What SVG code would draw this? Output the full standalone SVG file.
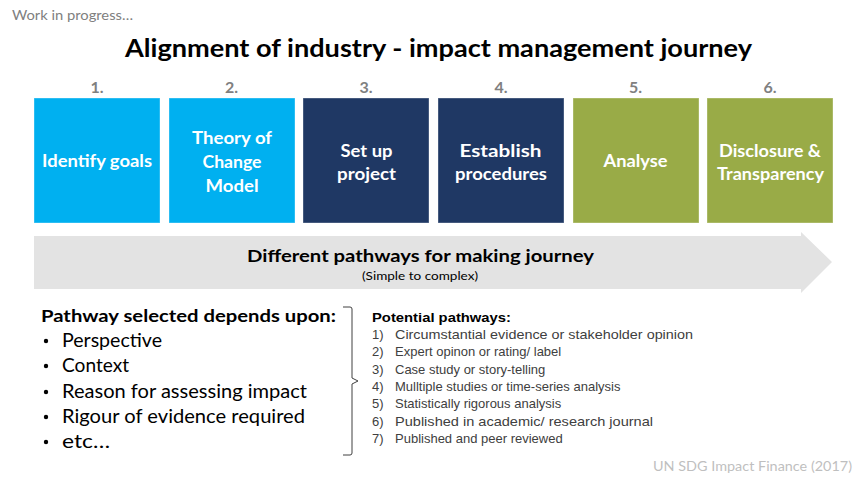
<svg xmlns="http://www.w3.org/2000/svg" width="855" height="482" viewBox="0 0 855 482">
  <style>
    .cal { font-family: Lato, "Open Sans", "Liberation Sans", sans-serif; }
    .ari { font-family: "Liberation Sans", Arial, sans-serif; }
    .num { font-size: 16px; font-weight: bold; fill: #808080; text-anchor: middle; }
    .box { stroke: #ffffff; stroke-opacity: 0.35; stroke-width: 1; }
    .lbl { font-size: 16.5px; font-weight: bold; fill: #ffffff; text-anchor: middle; }
    .blue { fill: #00b0f0; }
    .navy { fill: #1f3864; }
    .green { fill: #99ab47; }
    .bul { font-size: 18.5px; fill: #000000; }
    .item { font-size: 13px; fill: #404040; }
  </style>

  <rect width="855" height="482" fill="#ffffff"/>

  <!-- header -->
  <text class="cal" x="12" y="20" font-size="13" fill="#808080" textLength="121" lengthAdjust="spacingAndGlyphs">Work in progress…</text>
  <text class="cal" x="438.5" y="57" font-size="25" font-weight="bold" fill="#000000" text-anchor="middle" textLength="627" lengthAdjust="spacingAndGlyphs">Alignment of industry - impact management journey</text>

  <!-- step 1 -->
  <g id="step1">
    <text class="cal num" x="97" y="93">1.</text>
    <rect class="box blue" x="34" y="98" width="126" height="125"/>
    <text class="cal lbl" x="97" y="167" textLength="110" lengthAdjust="spacingAndGlyphs">Identify goals</text>
  </g>

  <!-- step 2 -->
  <g id="step2">
    <text class="cal num" x="231.5" y="93">2.</text>
    <rect class="box blue" x="169" y="98" width="126" height="125"/>
    <text class="cal lbl" x="232" y="144" textLength="80" lengthAdjust="spacingAndGlyphs">Theory of</text>
    <text class="cal lbl" x="232" y="168" textLength="59" lengthAdjust="spacingAndGlyphs">Change</text>
    <text class="cal lbl" x="232" y="192" textLength="53" lengthAdjust="spacingAndGlyphs">Model</text>
  </g>

  <!-- step 3 -->
  <g id="step3">
    <text class="cal num" x="366" y="93">3.</text>
    <rect class="box navy" x="303" y="98" width="126" height="125"/>
    <text class="cal lbl" x="366.5" y="157" textLength="52" lengthAdjust="spacingAndGlyphs">Set up</text>
    <text class="cal lbl" x="366.5" y="180" textLength="59" lengthAdjust="spacingAndGlyphs">project</text>
  </g>

  <!-- step 4 -->
  <g id="step4">
    <text class="cal num" x="501" y="93">4.</text>
    <rect class="box navy" x="438" y="98" width="126" height="125"/>
    <text class="cal lbl" x="500.5" y="157" textLength="82" lengthAdjust="spacingAndGlyphs">Establish</text>
    <text class="cal lbl" x="501" y="180" textLength="92" lengthAdjust="spacingAndGlyphs">procedures</text>
  </g>

  <!-- step 5 -->
  <g id="step5">
    <text class="cal num" x="635.5" y="93">5.</text>
    <rect class="box green" x="573" y="98" width="126" height="125"/>
    <text class="cal lbl" x="635.5" y="167" textLength="64" lengthAdjust="spacingAndGlyphs">Analyse</text>
  </g>

  <!-- step 6 -->
  <g id="step6">
    <text class="cal num" x="770" y="93">6.</text>
    <rect class="box green" x="707" y="98" width="126" height="125"/>
    <text class="cal lbl" x="770" y="157" textLength="102" lengthAdjust="spacingAndGlyphs">Disclosure &amp;</text>
    <text class="cal lbl" x="770.5" y="180" textLength="107" lengthAdjust="spacingAndGlyphs">Transparency</text>
  </g>

  <!-- pathways arrow -->
  <g id="pathways">
    <polygon points="34,236 801,236 801,232 832,262 801,293 801,289 34,289" fill="#e3e3e3"/>
    <text class="cal" x="420.5" y="262" font-size="17" font-weight="bold" fill="#000000" text-anchor="middle" textLength="347" lengthAdjust="spacingAndGlyphs">Different pathways for making journey</text>
    <text class="cal" x="420" y="280" font-size="11" fill="#000000" text-anchor="middle" textLength="116" lengthAdjust="spacingAndGlyphs">(Simple to complex)</text>
  </g>

  <!-- factors -->
  <g id="factors">
    <text class="cal" x="41" y="322" font-size="17.5" font-weight="bold" fill="#000000" textLength="295" lengthAdjust="spacingAndGlyphs">Pathway selected depends upon:</text>
    <g fill="#000000">
      <circle cx="46" cy="341" r="2.2"/>
      <circle cx="46" cy="366" r="2.2"/>
      <circle cx="46" cy="392" r="2.2"/>
      <circle cx="46" cy="417" r="2.2"/>
      <circle cx="46" cy="442" r="2.2"/>
    </g>
    <text class="cal bul" x="62" y="347" textLength="100" lengthAdjust="spacingAndGlyphs">Perspective</text>
    <text class="cal bul" x="62" y="372" textLength="67" lengthAdjust="spacingAndGlyphs">Context</text>
    <text class="cal bul" x="62" y="398" textLength="245" lengthAdjust="spacingAndGlyphs">Reason for assessing impact</text>
    <text class="cal bul" x="62" y="423" textLength="243" lengthAdjust="spacingAndGlyphs">Rigour of evidence required</text>
    <text class="cal bul" x="62" y="448" textLength="48" lengthAdjust="spacingAndGlyphs">etc…</text>
  </g>

  <!-- brace joining factors to pathways -->
  <g id="connectors">
    <path d="M343,307 L350,307 Q352,307 352,309 L352,378 L358,381 L352,384 L352,453 Q352,455 350,455 L343,455" fill="none" stroke="#404040" stroke-width="1"/>
  </g>

  <!-- potential pathways list -->
  <g id="potential">
    <text class="ari" x="372" y="322" font-size="13.5" font-weight="bold" fill="#000000" textLength="139" lengthAdjust="spacingAndGlyphs">Potential pathways:</text>
    <text class="ari item" x="372" y="339">1)</text>
    <text class="ari item" x="395" y="339" textLength="298" lengthAdjust="spacingAndGlyphs">Circumstantial evidence or stakeholder opinion</text>
    <text class="ari item" x="372" y="356">2)</text>
    <text class="ari item" x="395" y="356">Expert opinon or rating/ label</text>
    <text class="ari item" x="372" y="374">3)</text>
    <text class="ari item" x="395" y="374">Case study or story-telling</text>
    <text class="ari item" x="372" y="391">4)</text>
    <text class="ari item" x="395" y="391">Mulltiple studies or time-series analysis</text>
    <text class="ari item" x="372" y="408">5)</text>
    <text class="ari item" x="395" y="408">Statistically rigorous analysis</text>
    <text class="ari item" x="372" y="426">6)</text>
    <text class="ari item" x="395" y="426" textLength="258" lengthAdjust="spacingAndGlyphs">Published in academic/ research journal</text>
    <text class="ari item" x="372" y="443">7)</text>
    <text class="ari item" x="395" y="443">Published and peer reviewed</text>
  </g>

  <!-- source -->
  <text class="cal" x="852" y="471" font-size="13.5" fill="#bfbfbf" text-anchor="end" textLength="199" lengthAdjust="spacingAndGlyphs">UN SDG Impact Finance (2017)</text>
</svg>
